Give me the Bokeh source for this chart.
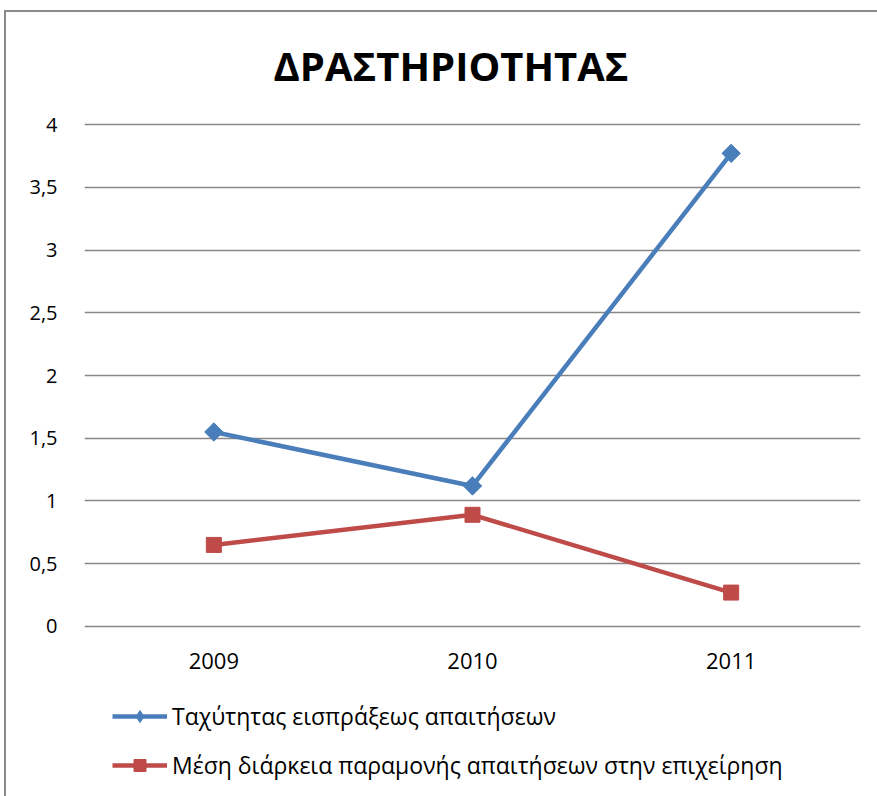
import math
from bokeh.plotting import figure
from bokeh.layouts import column
from bokeh.models import FactorRange, FixedTicker, Legend, LegendItem, Range1d, Title
from bokeh.embed import file_html
from bokeh.resources import INLINE

years = ["2009", "2010", "2011"]
speed = [1.55, 1.12, 3.77]
duration = [0.65, 0.89, 0.27]
y_ticks = [0, 0.5, 1, 1.5, 2, 2.5, 3, 3.5, 4]
y_tick_labels = ["0", "0,5", "1", "1,5", "2", "2,5", "3", "3,5", "4"]
series_names = ["Ταχύτητας εισπράξεως απαιτήσεων",
                "Μέση διάρκεια παραμονής απαιτήσεων στην επιχείρηση"]
title_text = "ΔΡΑΣΤΗΡΙΟΤΗΤΑΣ"

FONT = "Open Sans"
BLUE = "#4A7EBB"
RED = "#BE4B48"

x_range = FactorRange(*years, range_padding=0)

p = figure(x_range=x_range, y_range=Range1d(-0.016, 4.016),
           width=871, height=678, output_backend="svg", toolbar_location=None,
           min_border_left=78, min_border_right=17, min_border_top=110, min_border_bottom=62)

p.title.text = title_text
p.title.text_font = FONT
p.title.text_font_size = "40px"
p.title.text_font_style = "bold"
p.title.align = "left"
p.title.offset = 189
p.title.standoff = 0
p.title.text_color = "black"

# blank gap between the title and the plot area
gap = Title(text=" ", text_font_size="10px", standoff=17)
p.add_layout(gap, "above")

p.outline_line_color = None
p.background_fill_color = "white"
p.border_fill_color = "white"

p.xgrid.grid_line_color = None
p.ygrid.grid_line_color = "#878787"
p.ygrid.grid_line_width = 1.4
p.ygrid.ticker = FixedTicker(ticks=y_ticks)

p.yaxis.ticker = FixedTicker(ticks=y_ticks)
p.yaxis.major_label_overrides = {t: l for t, l in zip(y_ticks, y_tick_labels)}
p.yaxis.axis_line_color = None
p.yaxis.major_tick_line_color = None
p.yaxis.minor_tick_line_color = None
p.yaxis.major_label_standoff = 21
p.yaxis.major_label_text_font = FONT
p.yaxis.major_label_text_font_size = "20px"
p.yaxis.major_label_text_color = "black"

p.xaxis.axis_line_color = None
p.xaxis.major_tick_line_color = None
p.xaxis.major_label_standoff = 18
p.xaxis.major_label_text_font = FONT
p.xaxis.major_label_text_font_size = "22px"
p.xaxis.major_label_text_color = "black"

p.line(years, speed, line_color=BLUE, line_width=4.5)
p.scatter(years, speed, marker="square", angle=math.pi / 4, size=13,
          fill_color=BLUE, line_color=BLUE)
p.line(years, duration, line_color=RED, line_width=4.5)
p.scatter(years, duration, marker="square", size=15, fill_color=RED, line_color=RED)

# legend strip below the chart (its renderers are hidden; only the legend shows)
leg = figure(width=871, height=106, x_range=x_range, y_range=Range1d(0, 4),
             output_backend="svg", toolbar_location=None, min_border=0,
             x_axis_type=None, y_axis_type=None)
leg.outline_line_color = None
leg.background_fill_color = "white"
leg.border_fill_color = "white"
k1 = leg.line(years, speed, line_color=BLUE, line_width=4.5, visible=False)
s1 = leg.scatter(years, speed, marker="diamond", size=19,
                 fill_color=BLUE, line_color=BLUE, visible=False)
k2 = leg.line(years, duration, line_color=RED, line_width=4.5, visible=False)
s2 = leg.scatter(years, duration, marker="square", size=15, fill_color=RED,
                 line_color=RED, visible=False)

legend = Legend(items=[LegendItem(label=series_names[0], renderers=[k1, s1]),
                       LegendItem(label=series_names[1], renderers=[k2, s2])],
                orientation="vertical", location=(28, 15))
legend.label_text_font = FONT
legend.label_text_font_size = "23px"
legend.label_text_color = "black"
legend.glyph_width = 55
legend.glyph_height = 30
legend.label_height = 30
legend.spacing = 17
legend.label_standoff = 5
legend.padding = 0
legend.margin = 0
legend.border_line_color = None
legend.background_fill_alpha = 0
legend.inactive_fill_alpha = 0
leg.add_layout(legend, "center")

layout = column(p, leg, spacing=0,
                styles={"border-left": "2px solid #8a8a8a", "border-top": "2px solid #8a8a8a",
                        "margin-left": "4px", "margin-top": "10px"})

open("out.html", "w").write(file_html(layout, INLINE))
